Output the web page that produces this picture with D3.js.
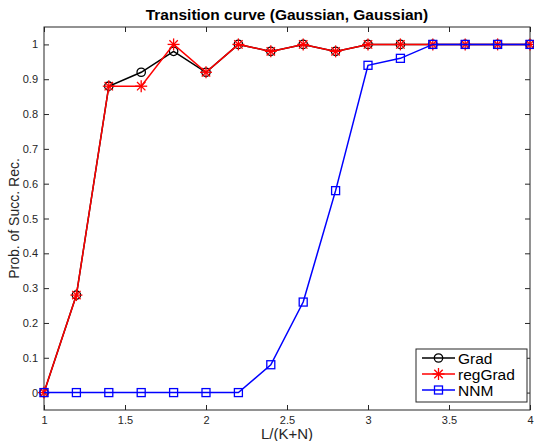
<html lang="en"><head>
<meta charset="utf-8">
<title>Transition curve</title>
<script src="https://cdn.jsdelivr.net/npm/d3@7"></script>
<style>
  body { margin: 0; background: #fff; }
  text { font-family: "Liberation Sans", Arial, sans-serif; }
</style>
</head>
<body>
<script>
// data
var xs      = [1, 1.2, 1.4, 1.6, 1.8, 2, 2.2, 2.4, 2.6, 2.8, 3, 3.2, 3.4, 3.6, 3.8, 4];
var grad    = [0, 0.28, 0.88, 0.92, 0.98, 0.92, 1, 0.98, 1, 0.98, 1, 1, 1, 1, 1, 1];
var regGrad = [0, 0.28, 0.88, 0.88, 1, 0.92, 1, 0.98, 1, 0.98, 1, 1, 1, 1, 1, 1];
var nnm     = [0, 0, 0, 0, 0, 0, 0, 0.08, 0.26, 0.58, 0.94, 0.96, 1, 1, 1, 1];
var xTicks  = [1, 1.5, 2, 2.5, 3, 3.5, 4];
var yTicks  = [0, 0.1, 0.2, 0.3, 0.4, 0.5, 0.6, 0.7, 0.8, 0.9, 1];

var w = 534, h = 441;
var pl = 44, pr = 530, pt = 27, pb = 410;

var svg = d3.select("body").append("svg").attr("width", w).attr("height", h);

var x = d3.scaleLinear().domain([1, 4]).range([pl, pr]);
var y = d3.scaleLinear().domain([-0.05, 1.05]).range([pb, pt]);

// axes with inward ticks on all four sides
function styleAxis(g) {
  g.select(".domain").remove();
  g.selectAll("line").attr("stroke", "#262626");
  g.selectAll("text").attr("fill", "#262626").attr("font-size", "11px");
}
svg.append("g").attr("transform", "translate(0," + pb + ")")
  .call(d3.axisBottom(x).tickValues(xTicks).tickFormat(d3.format("")).tickSizeInner(-5).tickPadding(6))
  .call(styleAxis);
svg.append("g").attr("transform", "translate(0," + pt + ")")
  .call(d3.axisTop(x).tickValues(xTicks).tickSizeInner(-5).tickFormat(""))
  .call(styleAxis);
svg.append("g").attr("transform", "translate(" + pl + ",0)")
  .call(d3.axisLeft(y).tickValues(yTicks).tickFormat(d3.format("")).tickSizeInner(-5).tickPadding(6))
  .call(styleAxis);
svg.append("g").attr("transform", "translate(" + pr + ",0)")
  .call(d3.axisRight(y).tickValues(yTicks).tickSizeInner(-5).tickFormat(""))
  .call(styleAxis);

svg.append("rect")
  .attr("x", pl).attr("y", pt)
  .attr("width", pr - pl).attr("height", pb - pt)
  .attr("fill", "none").attr("stroke", "#262626").attr("stroke-width", 1);

var line = d3.line().x(function(d, i) { return x(xs[i]); }).y(function(d) { return y(d); });

function drawMarker(g, type, color, cx, cy) {
  if (type === "circle") {
    g.append("circle").attr("cx", cx).attr("cy", cy).attr("r", 4.2)
      .attr("fill", "none").attr("stroke", color).attr("stroke-width", 1.3);
  } else if (type === "square") {
    g.append("rect").attr("x", cx - 4).attr("y", cy - 4).attr("width", 8).attr("height", 8)
      .attr("fill", "none").attr("stroke", color).attr("stroke-width", 1.3);
  } else {
    var r = 6;
    [[0, r, 0, -r], [-r, 0, r, 0], [-r*0.7, -r*0.7, r*0.7, r*0.7], [-r*0.7, r*0.7, r*0.7, -r*0.7]].forEach(function(s) {
      g.append("line").attr("x1", cx + s[0]).attr("y1", cy + s[1]).attr("x2", cx + s[2]).attr("y2", cy + s[3])
        .attr("stroke", color).attr("stroke-width", 1.3);
    });
  }
}

var series = [
  { name: "Grad", values: grad, color: "#000000", marker: "circle" },
  { name: "regGrad", values: regGrad, color: "#ff0000", marker: "star" },
  { name: "NNM", values: nnm, color: "#0000ff", marker: "square" }
];

series.forEach(function(s) {
  var g = svg.append("g");
  g.append("path").datum(s.values).attr("d", line)
    .attr("fill", "none").attr("stroke", s.color).attr("stroke-width", 1.5);
  s.values.forEach(function(v, i) { drawMarker(g, s.marker, s.color, x(xs[i]), y(v)); });
});

// legend
var lg = svg.append("g");
lg.append("rect").attr("x", 416).attr("y", 349).attr("width", 111).attr("height", 53)
  .attr("fill", "#fff").attr("stroke", "#262626").attr("stroke-width", 1);
series.forEach(function(s, i) {
  var ly = 358 + i * 16;
  lg.append("line").attr("x1", 422).attr("x2", 455).attr("y1", ly).attr("y2", ly)
    .attr("stroke", s.color).attr("stroke-width", 1.5);
  drawMarker(lg, s.marker, s.color, 438.5, ly);
  lg.append("text").attr("x", 458).attr("y", ly + 5.5).attr("font-size", "15.5px").attr("fill", "#000").text(s.name);
});

// titles
svg.append("text").attr("x", (pl + pr) / 2).attr("y", 20).attr("text-anchor", "middle")
  .attr("font-size", "15.5px").attr("font-weight", "bold").attr("fill", "#000")
  .text("Transition curve (Gaussian, Gaussian)");
svg.append("text").attr("x", (pl + pr) / 2).attr("y", 439).attr("text-anchor", "middle")
  .attr("font-size", "15px").attr("fill", "#262626").text("L/(K+N)");
svg.append("text").attr("transform", "translate(19," + ((pt + pb) / 2) + ") rotate(-90)")
  .attr("text-anchor", "middle").attr("font-size", "14px").attr("fill", "#262626")
  .text("Prob. of Succ. Rec.");
</script>
</body></html>
